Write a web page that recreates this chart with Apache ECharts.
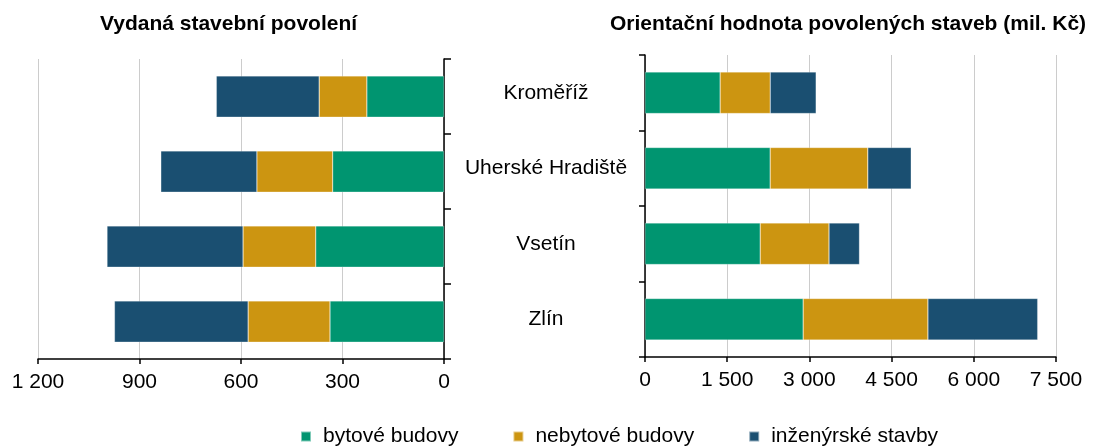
<!DOCTYPE html>
<html>
<head>
<meta charset="utf-8">
<script src="https://cdn.jsdelivr.net/npm/echarts@6/dist/echarts.min.js"></script>
<style>html,body{margin:0;padding:0;background:#fff}#c{width:1096px;height:448px}</style>
</head>
<body>
<div id="c"></div>
<script>
const categories = ['Kroměříž', 'Uherské Hradiště', 'Vsetín', 'Zlín'];
const seriesNames = ['bytové budovy', 'nebytové budovy', 'inženýrské stavby'];
const permitsBytove = [228, 329, 379, 337];
const permitsNebytove = [141, 224, 215, 242];
const permitsInzenyrske = [304, 284, 402, 395];
const valueBytove = [1371, 2284, 2102, 2886];
const valueNebytove = [914, 1782, 1256, 2277];
const valueInzenyrske = [838, 792, 556, 2003];
const leftTicks = {min: 0, max: 1200, interval: 300};
const rightTicks = {min: 0, max: 7500, interval: 1500};
const titles = ['Vydaná stavební povolení', 'Orientační hodnota povolených staveb (mil. Kč)'];

const colors = ['#009570', '#CC9511', '#1A4F71'];
const FONT = 'Liberation Sans, Arial, sans-serif';
const fmt = v => String(v).replace(/\B(?=(\d{3})+(?!\d))/g, ' ');

const chart = echarts.init(document.getElementById('c'));
const axisLineStyle = {show: true, onZero: false, lineStyle: {color: '#000', width: 1.5}};
const leftData = [permitsBytove, permitsNebytove, permitsInzenyrske];
const rightData = [valueBytove, valueNebytove, valueInzenyrske];
const series = [];
seriesNames.forEach((n, i) => {
  series.push({name: n, type: 'bar', stack: 'L', xAxisIndex: 0, yAxisIndex: 0, barWidth: '55%',
    data: leftData[i], itemStyle: {color: colors[i], borderColor: 'rgba(255,255,255,0.5)', borderWidth: 0.5}});
});
seriesNames.forEach((n, i) => {
  series.push({name: n, type: 'bar', stack: 'R', xAxisIndex: 1, yAxisIndex: 1, barWidth: '55%',
    data: rightData[i], itemStyle: {color: colors[i], borderColor: 'rgba(255,255,255,0.5)', borderWidth: 0.5}});
});

chart.setOption({
  animation: false,
  color: colors,
  textStyle: {fontFamily: FONT},
  title: [
    {text: titles[0], left: 100, top: 14, padding: 0, textStyle: {fontSize: 21, fontWeight: 'bold', color: '#000', fontFamily: FONT}},
    {text: titles[1], left: 610, top: 14, padding: 0, textStyle: {fontSize: 21, fontWeight: 'bold', color: '#000', fontFamily: FONT}}
  ],
  legend: {
    data: seriesNames, left: 300, top: 426, padding: 0, itemWidth: 10, itemHeight: 10, itemGap: 54, icon: 'rect',
    textStyle: {fontSize: 21, color: '#000', fontFamily: FONT, padding: [0, 0, 0, 7]}
  },
  grid: [
    {left: 38, right: 652, top: 59, bottom: 89},
    {left: 645, right: 40, top: 55, bottom: 91}
  ],
  xAxis: [
    {type: 'value', gridIndex: 0, inverse: true, min: leftTicks.min, max: leftTicks.max, interval: leftTicks.interval,
      axisLine: axisLineStyle, axisTick: {show: true, length: 5, lineStyle: {color: '#000', width: 1.5}},
      axisLabel: {formatter: fmt, fontSize: 21, color: '#000', margin: 13, fontFamily: FONT},
      splitLine: {show: true, lineStyle: {color: '#cccccc', width: 1}}},
    {type: 'value', gridIndex: 1, min: rightTicks.min, max: rightTicks.max, interval: rightTicks.interval,
      axisLine: axisLineStyle, axisTick: {show: true, length: 5, lineStyle: {color: '#000', width: 1.5}},
      axisLabel: {formatter: fmt, fontSize: 21, color: '#000', margin: 13, fontFamily: FONT},
      splitLine: {show: true, lineStyle: {color: '#cccccc', width: 1}}}
  ],
  yAxis: [
    {type: 'category', gridIndex: 0, data: categories, inverse: true, position: 'right',
      axisLine: axisLineStyle, axisTick: {show: true, length: 7, lineStyle: {color: '#000', width: 1.5}},
      axisLabel: {show: false}, splitLine: {show: false}},
    {type: 'category', gridIndex: 1, data: categories, inverse: true, position: 'left',
      axisLine: axisLineStyle, axisTick: {show: true, length: 6, lineStyle: {color: '#000', width: 1.5}},
      axisLabel: {show: true, fontSize: 21, color: '#000', margin: 99, align: 'center', fontFamily: FONT},
      splitLine: {show: false}}
  ],
  series: series
});
</script>
</body>
</html>
